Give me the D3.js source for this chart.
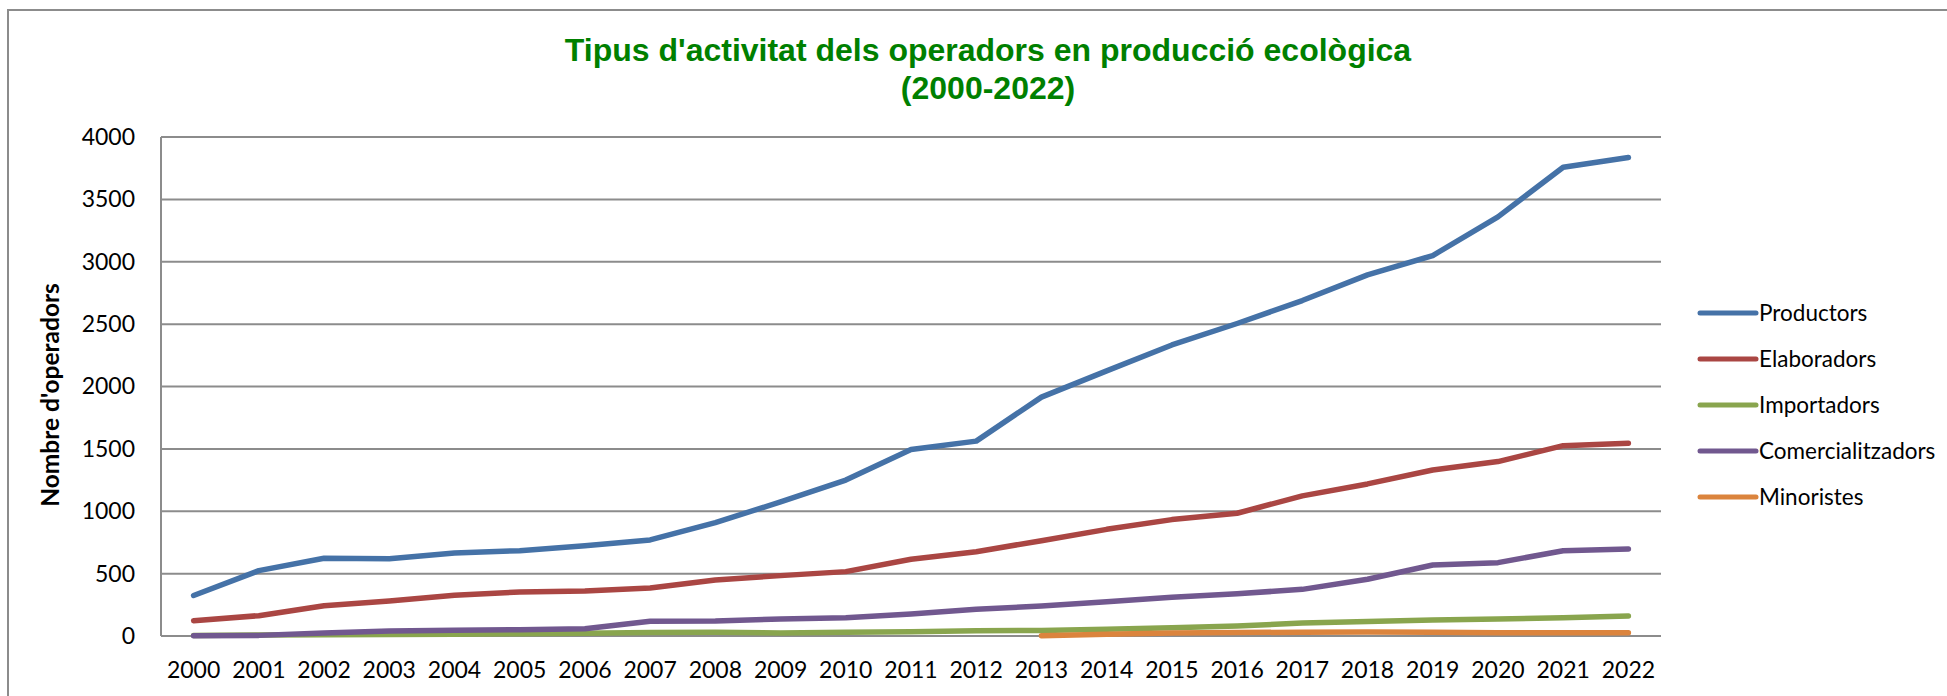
<!DOCTYPE html>
<html>
<head>
<meta charset="utf-8">
<script src="https://cdn.jsdelivr.net/npm/d3@7"></script>
<style>
  body { margin: 0; background: #fff; }
  svg { display: block; }
</style>
</head>
<body>
<div id="chart"></div>
<script>
const years = ["2000", "2001", "2002", "2003", "2004", "2005", "2006", "2007", "2008", "2009", "2010", "2011",
               "2012", "2013", "2014", "2015", "2016", "2017", "2018", "2019", "2020", "2021", "2022"]
const productors = [325, 524, 623, 620, 666, 684, 724, 770, 909, 1075, 1250, 1495, 1562, 1915, 2125, 2333, 2505,
                    2689, 2895, 3050, 3360, 3758, 3836]
const elaboradors = [123, 163, 243, 281, 326, 353, 361, 385, 449, 484, 516, 615, 676, 764, 855, 933, 984, 1123,
                     1219, 1331, 1398, 1526, 1546]
const importadors = [5, 8, 10, 12, 15, 18, 22, 28, 30, 25, 30, 34, 42, 45, 55, 66, 80, 104, 117, 128, 136, 147, 160]
const comercialitzadors = [2, 5, 24, 40, 46, 50, 58, 118, 121, 136, 147, 176, 214, 241, 275, 310, 339, 374, 455,
                           569, 588, 684, 698]
const minoristes = [null, null, null, null, null, null, null, null, null, null, null, null, null, 2, 15, 25, 28,
                    30, 32, 30, 27, 26, 27]
const seriesNames = ["Productors", "Elaboradors", "Importadors", "Comercialitzadors", "Minoristes"]
const seriesColors = ["#4572a7", "#aa4643", "#89a54e", "#71588f", "#db843d"]
const yTicks = [0, 500, 1000, 1500, 2000, 2500, 3000, 3500, 4000]

const WIDTH = 1947
const HEIGHT = 696
const PLOT = {left: 161, right: 1661, top: 137, bottom: 636}
const LEGEND = {x: 1700, y: 313, step: 46, lineLength: 56}
const TEXT_FONT = "Lato, 'Open Sans', sans-serif"

/*********************************************
// Helpers
*********************************************/
function buildSeries() {
  const values = [productors, elaboradors, importadors, comercialitzadors, minoristes]
  return seriesNames.map((name, i) => ({
    name: name,
    color: seriesColors[i],
    points: years.map((year, j) => ({year: year, value: values[i][j]}))
  }))
}

/*********************************************
// Drawing
*********************************************/
function drawFrame(svg) {
  // chart border: only left and top visible, it runs past the window
  svg.append("rect")
    .attr("x", 8)
    .attr("y", 10)
    .attr("width", WIDTH + 20)
    .attr("height", HEIGHT + 20)
    .attr("fill", "#fff")
    .attr("stroke", "#8c8c8c")
    .attr("stroke-width", 2)
}

function drawTitle(svg) {
  const title = svg.append("text")
    .attr("x", 988)
    .attr("text-anchor", "middle")
    .attr("font-family", "'Liberation Sans', Arial, sans-serif")
    .attr("font-weight", "bold")
    .attr("font-size", "32px")
    .attr("fill", "#008000")

  title.append("tspan").attr("x", 988).attr("y", 61)
    .text("Tipus d'activitat dels operadors en producció ecològica")
  title.append("tspan").attr("x", 988).attr("y", 99)
    .text("(2000-2022)")
}

function drawAxes(svg, x, y) {
  const grid = svg.append("g").classed("grid", true)

  grid.selectAll("line.grid-line")
    .data(yTicks).enter()
    .append("line")
    .classed("grid-line", true)
    .attr("x1", PLOT.left)
    .attr("x2", PLOT.right)
    .attr("y1", y)
    .attr("y2", y)
    .attr("stroke", "#8c8c8c")
    .attr("stroke-width", 2)

  grid.append("line")
    .attr("x1", PLOT.left)
    .attr("x2", PLOT.left)
    .attr("y1", PLOT.top)
    .attr("y2", PLOT.bottom)
    .attr("stroke", "#8c8c8c")
    .attr("stroke-width", 2)

  const yAxis = svg.append("g")
    .attr("transform", `translate(${PLOT.left - 26},0)`)
    .call(d3.axisLeft(y).tickValues(yTicks).tickFormat(d3.format("d")).tickSize(0).tickPadding(0))
  yAxis.select(".domain").remove()
  yAxis.selectAll("text")
    .attr("font-family", TEXT_FONT)
    .attr("font-size", "23px")
    .attr("fill", "#000")

  const xAxis = svg.append("g")
    .attr("transform", `translate(0,${PLOT.bottom})`)
    .call(d3.axisBottom(x).tickSize(0).tickPadding(26))
  xAxis.select(".domain").remove()
  xAxis.selectAll("text")
    .attr("font-family", TEXT_FONT)
    .attr("font-size", "23px")
    .attr("fill", "#000")

  svg.append("text")
    .text("Nombre d'operadors")
    .attr("transform", "translate(50,395) rotate(-90)")
    .attr("text-anchor", "middle")
    .attr("dy", "0.35em")
    .attr("font-family", TEXT_FONT)
    .attr("font-weight", "bold")
    .attr("font-size", "24.5px")
    .attr("fill", "#000")
}

function drawLines(svg, series, x, y) {
  const line = d3.line()
    .defined((d) => d.value !== null)
    .x((d) => x(d.year) + x.bandwidth() / 2)
    .y((d) => y(d.value))

  svg.append("g").classed("series", true)
    .selectAll("path")
    .data(series).enter()
    .append("path")
    .attr("d", (d) => line(d.points))
    .attr("fill", "none")
    .attr("stroke", (d) => d.color)
    .attr("stroke-width", 5.5)
    .attr("stroke-linejoin", "round")
    .attr("stroke-linecap", "round")
}

function drawLegend(svg, series) {
  const rows = svg.append("g").classed("legend", true)
    .selectAll("g")
    .data(series).enter()
    .append("g")
    .attr("transform", (_, i) => `translate(${LEGEND.x},${LEGEND.y + i * LEGEND.step})`)

  rows.append("line")
    .attr("x1", 0)
    .attr("x2", LEGEND.lineLength)
    .attr("stroke", (d) => d.color)
    .attr("stroke-width", 5)
    .attr("stroke-linecap", "round")

  rows.append("text")
    .text((d) => d.name)
    .attr("x", LEGEND.lineLength + 3)
    .attr("dy", "0.36em")
    .attr("font-family", TEXT_FONT)
    .attr("font-size", "22.5px")
    .attr("fill", "#000")
}

/*********************************************
// Main
*********************************************/
const svg = d3.select("#chart")
  .append("svg")
  .attr("width", WIDTH)
  .attr("height", HEIGHT)

const x = d3.scaleBand().domain(years).range([PLOT.left, PLOT.right])
const y = d3.scaleLinear().domain([0, 4000]).range([PLOT.bottom, PLOT.top])
const series = buildSeries()

drawFrame(svg)
drawTitle(svg)
drawAxes(svg, x, y)
drawLines(svg, series, x, y)
drawLegend(svg, series)
</script>
</body>
</html>
